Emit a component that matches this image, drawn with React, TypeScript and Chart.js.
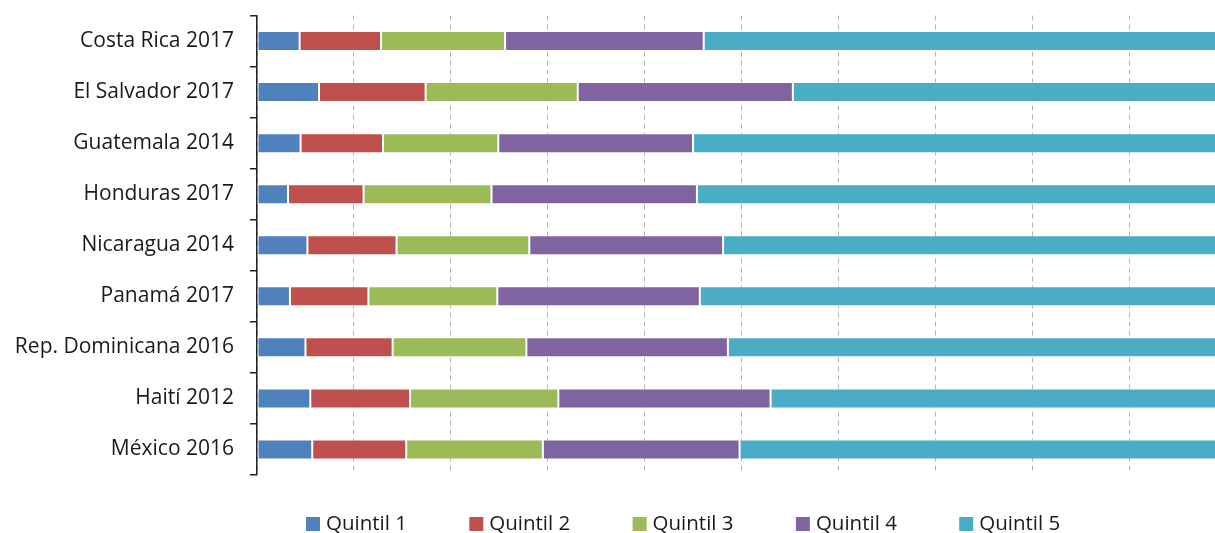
import React, { useEffect, useRef } from "react";
import { Chart, registerables } from "chart.js";

Chart.register(...registerables);

const categories = [
  "Costa Rica 2017",
  "El Salvador 2017",
  "Guatemala 2014",
  "Honduras 2017",
  "Nicaragua 2014",
  "Panamá 2017",
  "Rep. Dominicana 2016",
  "Haití 2012",
  "México 2016",
];

const seriesNames = ["Quintil 1", "Quintil 2", "Quintil 3", "Quintil 4", "Quintil 5"];

const quintil1 = [4.4, 6.4, 4.5, 3.2, 5.2, 3.4, 5.0, 5.5, 5.7];
const quintil2 = [8.4, 11.0, 8.5, 7.8, 9.2, 8.1, 9.0, 10.3, 9.7];
const quintil3 = [12.8, 15.7, 11.9, 13.2, 13.7, 13.3, 13.8, 15.3, 14.1];
const quintil4 = [20.5, 22.2, 20.1, 21.2, 20.0, 20.9, 20.8, 21.9, 20.3];
const quintil5 = [53.9, 44.7, 55.0, 54.6, 51.9, 54.3, 51.4, 47.0, 50.2];

const colors = ["#4F81BD", "#C0504D", "#9BBB59", "#8064A2", "#4BACC6"];

const FONT = "'Open Sans', 'DejaVu Sans', sans-serif";
const TEXT = "#1a1a1a";

const customLegend = {
  id: "customLegend",
  afterDraw(chart: any) {
    const ctx = chart.ctx;
    ctx.save();
    const x0 = 306;
    const step = 163.3;
    const boxY = 517;
    const box = 14;
    ctx.font = `20.5px ${FONT}`;
    ctx.textBaseline = "middle";
    ctx.textAlign = "left";
    chart.data.datasets.forEach((ds: any, i: number) => {
      const x = x0 + i * step;
      ctx.fillStyle = ds.backgroundColor;
      ctx.fillRect(x, boxY, box, box);
      ctx.fillStyle = TEXT;
      ctx.fillText(ds.label, x + 20, boxY + box / 2);
    });
    ctx.restore();
  },
};

export default function App() {
  const canvasRef = useRef<HTMLCanvasElement | null>(null);

  useEffect(() => {
    document.body.style.margin = "0";
    const canvas = canvasRef.current;
    if (!canvas) return;
    const values = [quintil1, quintil2, quintil3, quintil4, quintil5];
    const chart = new Chart(canvas, {
      type: "bar",
      data: {
        labels: categories,
        datasets: values.map((v, i) => ({
          label: seriesNames[i],
          data: v,
          backgroundColor: colors[i],
          borderColor: "rgba(255,255,255,0.45)",
          borderWidth: 1,
          borderSkipped: false,
          barPercentage: 0.392,
          categoryPercentage: 1,
        })),
      },
      options: {
        indexAxis: "y",
        responsive: false,
        animation: false,
        layout: { padding: { left: 0, right: 0, top: 15.5, bottom: 58 } },
        plugins: {
          legend: { display: false },
          tooltip: { enabled: false },
        },
        scales: {
          x: {
            stacked: true,
            min: 0,
            max: 100,
            ticks: { display: false, stepSize: 10 },
            border: { display: false, dash: [5, 4] },
            grid: {
              color: "#b5b5b5",
              lineWidth: 1,
              drawTicks: false,
            },
          },
          y: {
            stacked: true,
            afterFit: (scale: any) => {
              scale.width = 257;
              scale.paddingTop = 0;
              scale.paddingBottom = 0;
            },
            ticks: {
              padding: 16,
              color: TEXT,
              font: { family: FONT, size: 21 },
            },
            border: { color: "#222", width: 1.5 },
            grid: {
              drawOnChartArea: false,
              drawTicks: true,
              tickLength: 7,
              color: "#222",
              lineWidth: 1.5,
            },
          },
        },
      } as any,
      plugins: [customLegend],
    });
    return () => chart.destroy();
  }, []);

  return (
    <div style={{ width: 1215, height: 533, overflow: "hidden" }}>
      <canvas ref={canvasRef} width={1226} height={533} style={{ display: "block" }} />
    </div>
  );
}
